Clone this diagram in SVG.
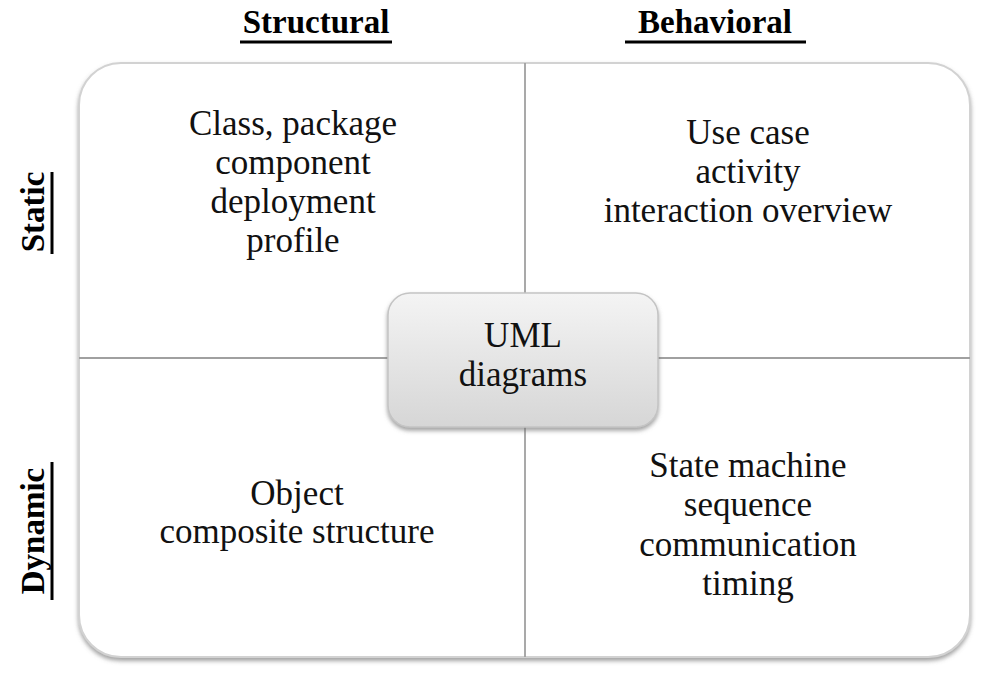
<svg xmlns="http://www.w3.org/2000/svg" width="989" height="673" viewBox="0 0 989 673">
  <style>
    .lbl { font-family: "Liberation Serif", "Times New Roman", serif; font-size: 35px; fill: #111; text-anchor: middle; }
    .hdr { font-family: "Liberation Serif", "Times New Roman", serif; font-size: 33px; font-weight: bold; fill: #000; text-anchor: middle; }
    .rule { stroke: #000; stroke-width: 3; }
    .div { stroke: #a0a0a0; stroke-width: 1.8; fill: none; }
  </style>
  <defs>
    <linearGradient id="coreFill" x1="0" y1="0" x2="0" y2="1">
      <stop offset="0" stop-color="#f4f4f4"/>
      <stop offset="1" stop-color="#d6d6d6"/>
    </linearGradient>
    <filter id="shadow" x="-5%" y="-5%" width="110%" height="115%">
      <feDropShadow dx="0" dy="3" stdDeviation="2" flood-color="#707070" flood-opacity="0.65"/>
    </filter>
  </defs>

  <rect width="989" height="673" fill="#fff"/>

  <!-- column and row headings -->
  <g id="heading-structural">
    <text class="hdr" x="316" y="33">Structural</text>
    <line class="rule" x1="240" y1="42" x2="392" y2="42"/>
  </g>
  <g id="heading-behavioral">
    <text class="hdr" x="715" y="33">Behavioral</text>
    <line class="rule" x1="625" y1="42" x2="806" y2="42"/>
  </g>
  <g id="heading-static">
    <text class="hdr" transform="translate(44,212) rotate(-90)">Static</text>
    <line class="rule" x1="52" y1="172" x2="52" y2="254"/>
  </g>
  <g id="heading-dynamic">
    <text class="hdr" transform="translate(44,531) rotate(-90)">Dynamic</text>
    <line class="rule" x1="52" y1="462" x2="52" y2="600"/>
  </g>

  <!-- outer frame -->
  <g id="frame">
    <rect x="79" y="63" width="891" height="594" rx="42" ry="42" fill="#fff" stroke="#d2d2d2" stroke-width="2" filter="url(#shadow)"/>
  </g>

  <!-- quadrant dividers -->
  <g id="connectors">
    <line class="div" x1="525" y1="63" x2="525" y2="657"/>
    <line class="div" x1="79" y1="358" x2="970" y2="358"/>
  </g>

  <!-- quadrants -->
  <g id="static-structural">
    <text class="lbl" x="293" y="135">Class, package</text>
    <text class="lbl" x="293" y="174">component</text>
    <text class="lbl" x="293" y="213">deployment</text>
    <text class="lbl" x="293" y="252">profile</text>
  </g>
  <g id="static-behavioral">
    <text class="lbl" x="748" y="144">Use case</text>
    <text class="lbl" x="748" y="183">activity</text>
    <text class="lbl" x="748" y="222">interaction overview</text>
  </g>
  <g id="dynamic-structural">
    <text class="lbl" x="297" y="505">Object</text>
    <text class="lbl" x="297" y="543">composite structure</text>
  </g>
  <g id="dynamic-behavioral">
    <text class="lbl" x="748" y="477">State machine</text>
    <text class="lbl" x="748" y="516">sequence</text>
    <text class="lbl" x="748" y="556">communication</text>
    <text class="lbl" x="748" y="595">timing</text>
  </g>

  <!-- central node -->
  <g id="uml-diagrams">
    <rect x="388" y="293" width="270" height="134" rx="22" ry="22" fill="url(#coreFill)" stroke="#c4c4c4" stroke-width="1.5" filter="url(#shadow)"/>
    <text class="lbl" x="523" y="347">UML</text>
    <text class="lbl" x="523" y="386">diagrams</text>
  </g>
</svg>
